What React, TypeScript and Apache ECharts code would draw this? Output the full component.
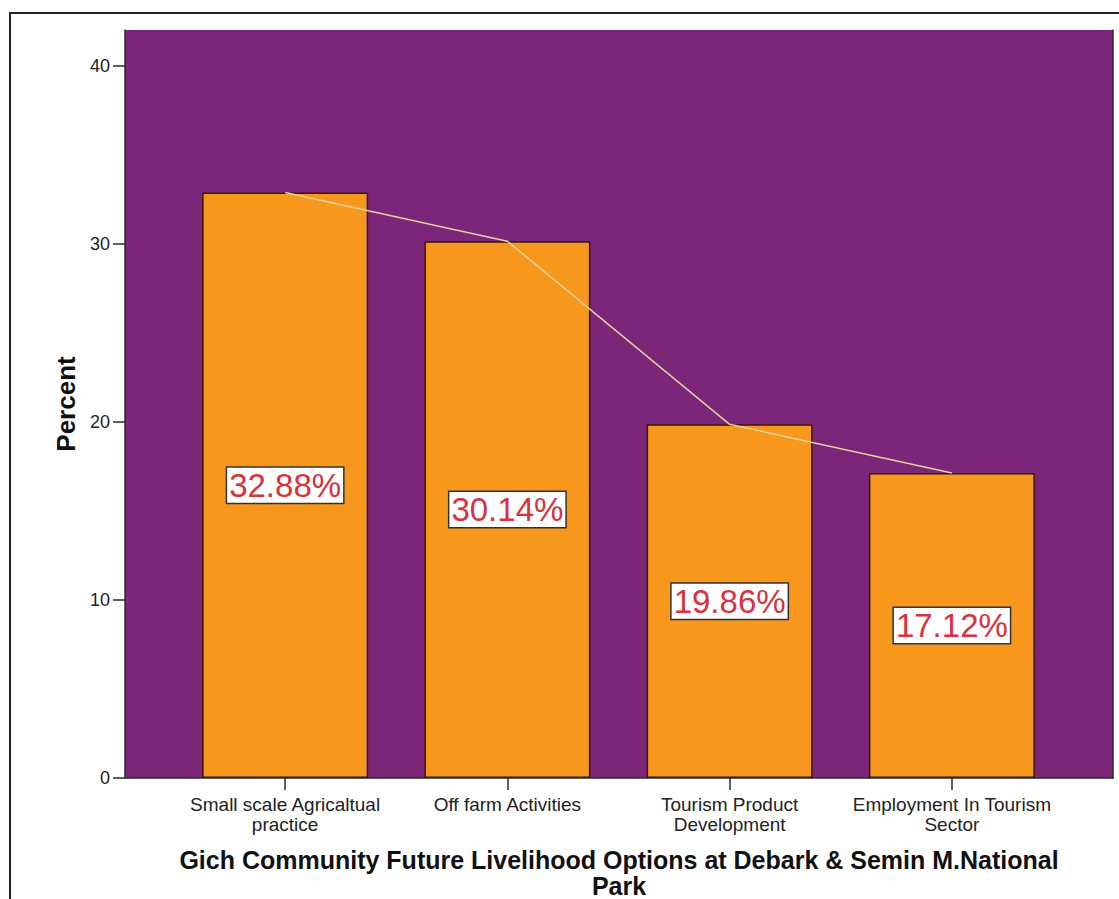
import React, { useEffect, useRef } from "react";
import * as echarts from "echarts";

const categories = [
  "Small scale Agricaltual\npractice",
  "Off farm Activities",
  "Tourism Product\nDevelopment",
  "Employment In Tourism\nSector",
];
const percentValues = [32.88, 30.14, 19.86, 17.12];
const yTicks = [0, 10, 20, 30, 40];
const yMax = 42;
const titleText = "Gich Community Future Livelihood Options at Debark & Semin M.National\nPark";
const yName = "Percent";

const FONT = '"Liberation Sans", Arial, sans-serif';

export default function App() {
  const ref = useRef<HTMLDivElement>(null);
  useEffect(() => {
    const chart = echarts.init(ref.current!, null, { renderer: "svg" });
    const option: any = {
      animation: false,
      backgroundColor: "#ffffff",
      textStyle: { fontFamily: FONT },
      grid: [
        { left: 125, top: 30, width: 988, height: 748, show: true, backgroundColor: "#7b2679", borderWidth: 0, containLabel: false },
        { left: 174, top: 30, width: 889, height: 748, containLabel: false },
      ],
      xAxis: [
        {
          gridIndex: 0, type: "value", min: 0, max: 1,
          axisLine: { show: true, onZero: false, lineStyle: { color: "#2b2b2b", width: 1.5 } },
          axisTick: { show: false }, axisLabel: { show: false }, splitLine: { show: false },
        },
        {
          gridIndex: 1, type: "category", data: categories,
          axisLine: { show: false },
          axisTick: { show: true, alignWithLabel: true, length: 12, lineStyle: { color: "#2b2b2b", width: 1.5 } },
          axisLabel: { color: "#222", fontSize: 19, lineHeight: 20, margin: 16, fontFamily: FONT, interval: 0 },
          splitLine: { show: false },
        },
      ],
      yAxis: [
        {
          gridIndex: 0, type: "value", min: 0, max: yMax, position: "left",
          axisLine: { show: true, lineStyle: { color: "#2b2b2b", width: 1.5 } },
          axisTick: { show: true, length: 12, customValues: yTicks, lineStyle: { color: "#2b2b2b", width: 1.5 } },
          axisLabel: { customValues: yTicks, color: "#222", fontSize: 18, margin: 15, fontFamily: FONT },
          splitLine: { show: false },
          name: yName, nameLocation: "middle", nameGap: 46,
          nameTextStyle: { fontSize: 26, fontWeight: "bold", color: "#111", fontFamily: FONT },
        },
        {
          gridIndex: 0, type: "value", min: 0, max: yMax, position: "right",
          axisLine: { show: true, lineStyle: { color: "#2b2b2b", width: 1.5 } },
          axisTick: { show: false }, axisLabel: { show: false }, splitLine: { show: false },
        },
        {
          gridIndex: 1, type: "value", min: 0, max: yMax, show: false,
          splitLine: { show: false },
        },
      ],
      series: [
        {
          type: "bar", xAxisIndex: 1, yAxisIndex: 2, data: percentValues, barWidth: 166,
          itemStyle: { color: "#f7981d", borderColor: "#3a1410", borderWidth: 1.5 },
          label: {
            show: true, position: "inside",
            formatter: (p: any) => p.value.toFixed(2) + "%",
            color: "#d8323c", fontSize: 33, fontFamily: FONT,
            backgroundColor: "#ffffff", borderColor: "#333", borderWidth: 1.5,
            padding: [2, 2, 0, 2],
          },
          z: 2,
        },
        {
          type: "line", xAxisIndex: 1, yAxisIndex: 2, data: percentValues,
          symbol: "none", lineStyle: { color: "#e0d39c", width: 1.5 }, z: 5,
        },
      ],
      graphic: [
        {
          type: "rect", shape: { x: 10, y: 13, width: 1300, height: 1000 },
          style: { fill: "none", stroke: "#222", lineWidth: 2 }, silent: true,
        },
        {
          type: "text", x: 619, y: 847,
          style: {
            text: titleText, fill: "#111", fontSize: 25, fontWeight: "bold", fontFamily: FONT,
            align: "center", verticalAlign: "top", lineHeight: 26,
          },
        },
      ],
    };
    chart.setOption(option);
    return () => chart.dispose();
  }, []);
  return (
    <div
      ref={ref}
      style={{ position: "absolute", left: 0, top: 0, width: 1119, height: 899, background: "#fff" }}
    />
  );
}
